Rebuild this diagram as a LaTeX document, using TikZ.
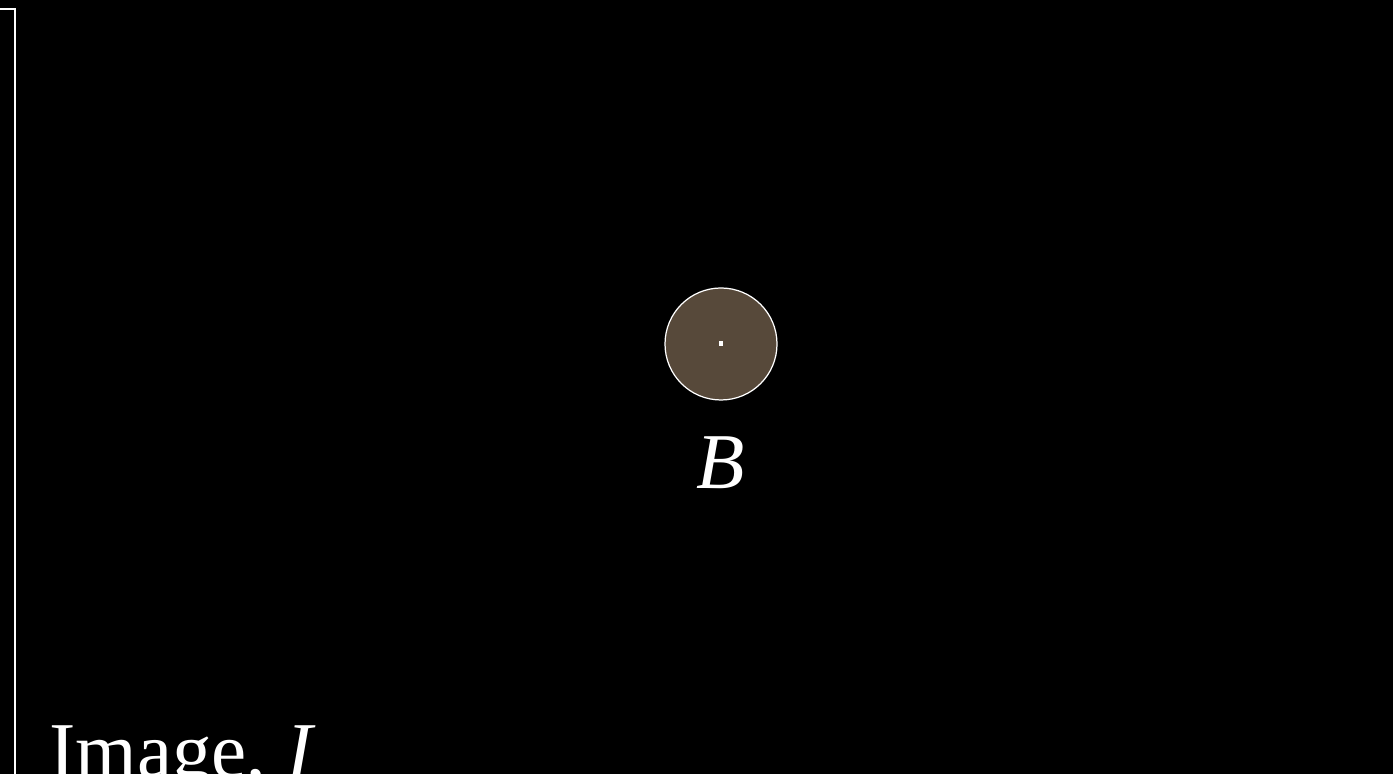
\documentclass[tikz,border=0pt]{standalone}
\usepackage{fontspec}
\setmainfont{Liberation Serif}
\usetikzlibrary{positioning}

\definecolor{blobbrown}{RGB}{87,73,58}

\begin{document}
\begin{tikzpicture}[
  every node/.style={text=white, inner sep=0pt},
  frame/.style={draw=white, line width=1.4pt},
  blobstyle/.style={circle, draw=white, line width=0.7pt, fill=blobbrown, minimum size=2.24cm},
  centredot/.style={rectangle, fill=white, minimum width=0.07cm, minimum height=0.1cm},
  biglabel/.style={font=\fontsize{45}{50}\selectfont}
]
\fill[black] (0,0) rectangle (27.86,15.48);
\useasboundingbox (0,0) rectangle (27.86,15.48);
\clip (0,0) rectangle (27.86,15.48);
% image frame, cut off at the edges
\draw[frame] (-2,-2) rectangle (0.30,15.30);
\node[biglabel, anchor=base west] (imgcap) at (0.98,-0.08) {Image,\ \textit{I}};
% blob and its label
\node[blobstyle] (blob) at (14.42,8.60) {};
\node[centredot] (dot) at (blob.center) {};
\node[biglabel, anchor=base] (lblB) at (14.42,5.70) {\textit{B}};
\end{tikzpicture}
\end{document}
